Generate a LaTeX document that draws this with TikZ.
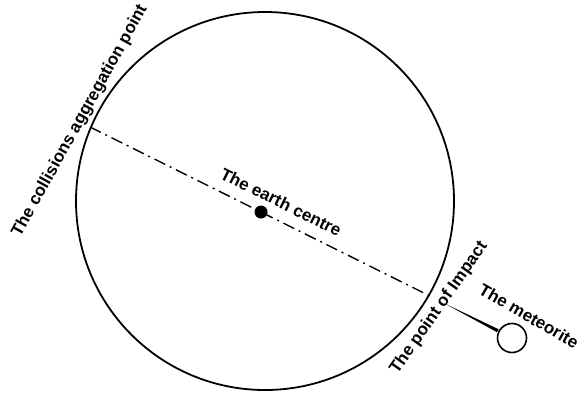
\documentclass[tikz,border=0pt]{standalone}
\usepackage{fontspec}
\setmainfont{Liberation Sans}
\usetikzlibrary{calc}

\begin{document}
\begin{tikzpicture}[
		x=1pt, y=-1pt,
		earth/.style = {draw, circle, line width=1.8pt, minimum size=378pt, inner sep=0pt},
		meteor/.style = {draw, circle, line width=1.6pt, minimum size=29pt, inner sep=0pt},
		centredot/.style = {fill, circle, minimum size=13pt, inner sep=0pt},
		axisline/.style = {line width=1.4pt, dash pattern=on 12pt off 5pt on 2pt off 5pt},
		label/.style = {font=\fontsize{17}{20}\selectfont\bfseries, inner sep=0pt}
		]
		\useasboundingbox (0,0) rectangle (580,392);
		
		% --- TIERRA ---
		\node [earth] (earth) at (265,201) {};
		\node [centredot] (centre) at (261,212) {};
		
		% --- PUNTOS SOBRE LA SUPERFICIE ---
		\coordinate (agg) at (90,127);
		\coordinate (impact) at (432,297);
		
		% --- METEORITO ---
		\node [meteor] (meteor) at (512,338) {};
		
		% --- CONEXIONES ---
		\draw [axisline] (agg) -- (centre.center) -- (impact);
		\fill ($(impact)!14pt!(meteor)$) -- ($(meteor)!16pt!6:(impact)$) -- ($(meteor)!16pt!-6:(impact)$) -- cycle;
		
		% --- ETIQUETAS ---
		\node [label, rotate=61] (agg_lbl) at (80,121) {The collisions aggregation point};
		\node [label, rotate=-26.4] (centre_lbl) at (281,202) {The earth centre};
		\node [label, rotate=55] (impact_lbl) at (439,308) {The point of Impact};
		\node [label, rotate=-30] (meteor_lbl) at (529,316) {The meteorite};
		
	\end{tikzpicture}
\end{document}
